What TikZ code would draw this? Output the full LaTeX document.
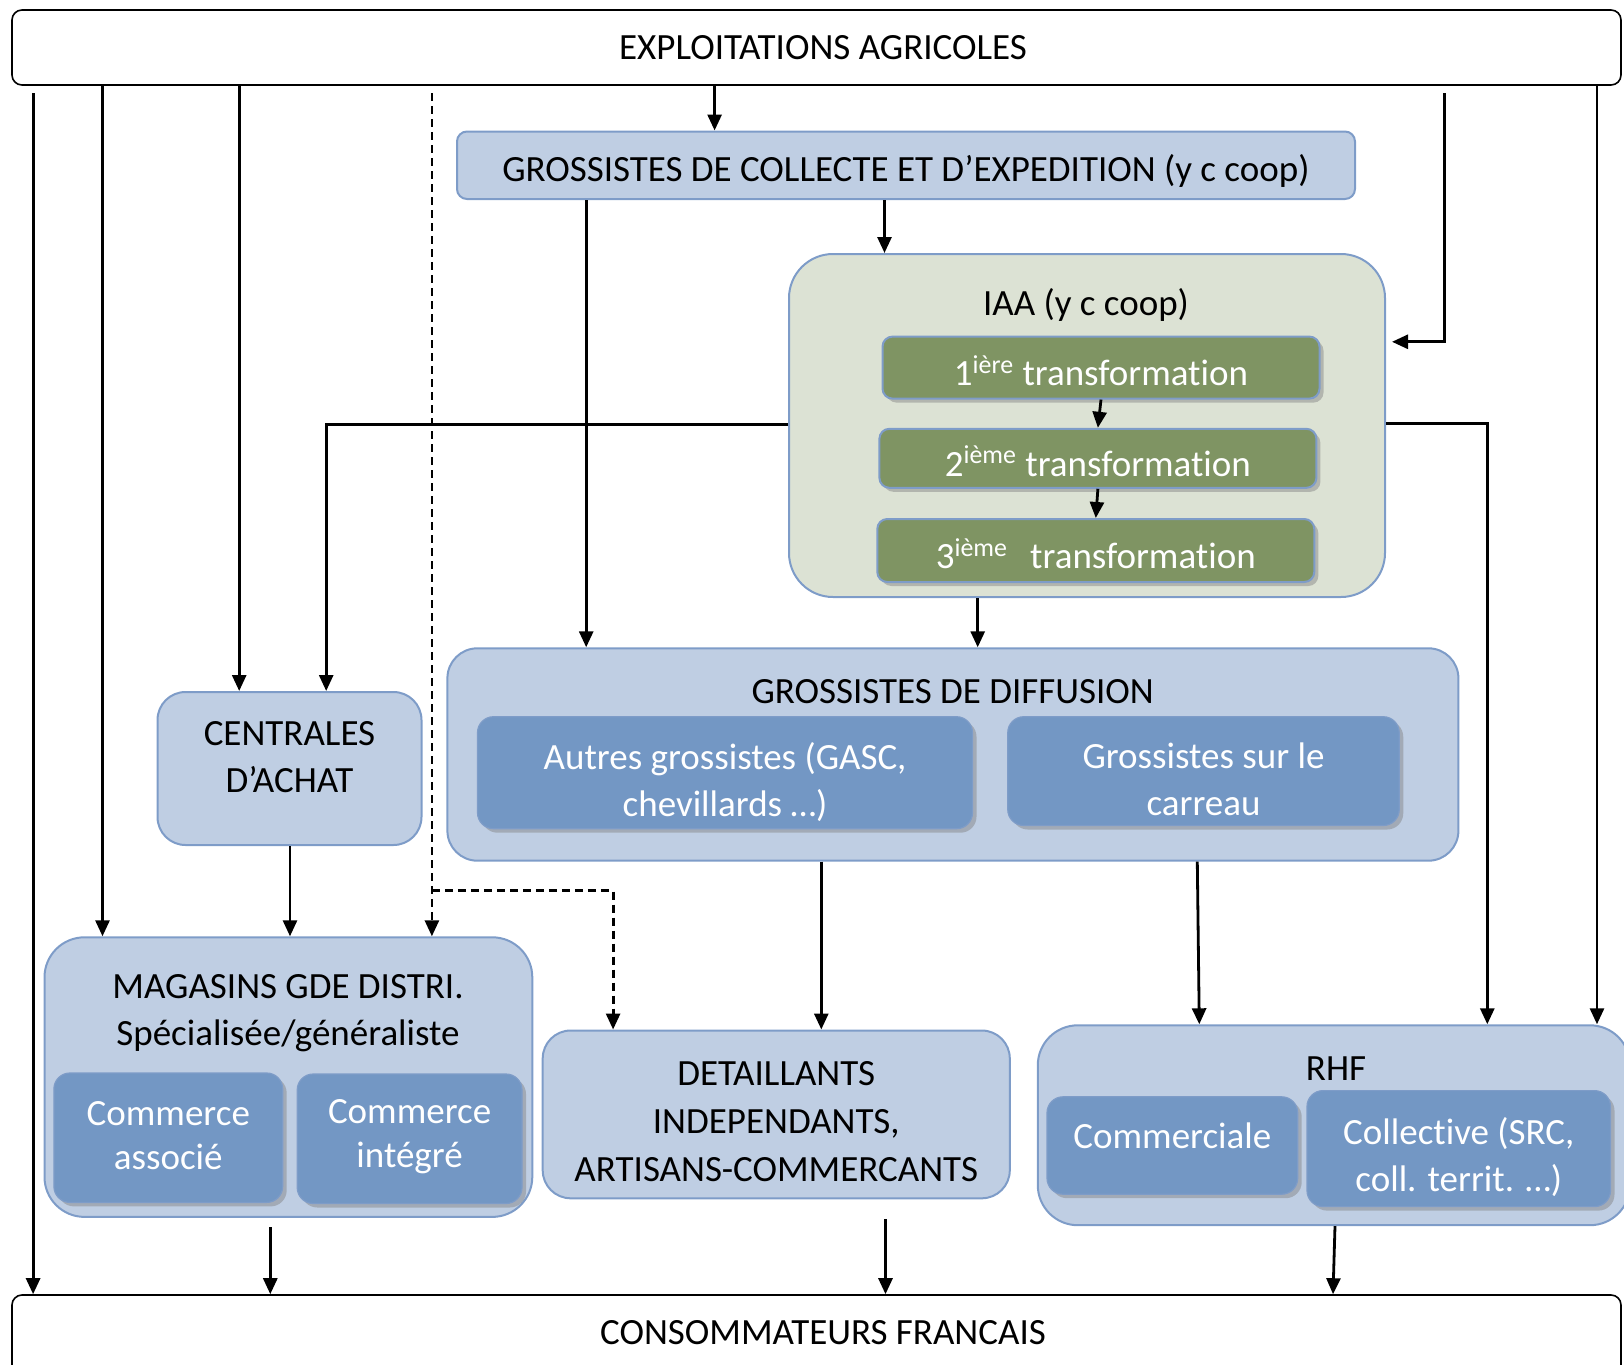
\documentclass[tikz,border=0pt]{standalone}
\usepackage{fontspec}
\setmainfont[Ligatures=NoCommon]{Carlito}
\usetikzlibrary{arrows.meta,shadows,calc}
\definecolor{boxlight}{RGB}{191,206,227}
\definecolor{bluebd}{RGB}{126,156,200}
\definecolor{boxdark}{RGB}{115,151,196}
\definecolor{iaafill}{RGB}{220,226,212}
\definecolor{greenbox}{RGB}{127,148,99}
\begin{document}
\begin{tikzpicture}[x=0.5pt,y=-0.5pt,
  font=\fontsize{18.5}{23.8}\selectfont,
  arr/.style={line width=1.4pt,-{Triangle[length=8pt,width=7pt]}},
  dsh/.style={dash pattern=on 4pt off 2.5pt},
  frame/.style={draw=black,line width=0.8pt,rounded corners=5pt,fill=white,inner sep=0pt},
  outer/.style={draw=bluebd,line width=1pt,fill=boxlight,inner sep=0pt,align=center},
  inner/.style={draw=bluebd,line width=0.6pt,fill=boxdark,rounded corners=8pt,inner sep=0pt,
    drop shadow={opacity=0.45,shadow xshift=2pt,shadow yshift=-2pt}},
  greenb/.style={draw=bluebd,line width=1pt,fill=greenbox,rounded corners=5pt,inner sep=0pt,
    drop shadow={opacity=0.45,shadow xshift=2pt,shadow yshift=-2pt}},
  wtxt/.style={text=white,align=center,inner sep=0pt},
  btxt/.style={text=black,align=center,inner sep=0pt},
]
\useasboundingbox (0,0) rectangle (1624,1365);
\clip (0,0) rectangle (1624,1365);

% frames
\node[frame, minimum width=804.5pt, minimum height=37.5pt] (expl) at (816.5,47.5) {};
\node[btxt] (explT) at (823,47.5) {EXPLOITATIONS AGRICOLES};
\node[frame, minimum width=804.5pt, minimum height=45pt] (cons) at (816.5,1340) {};
\node[btxt] (consT) at (823,1333) {CONSOMMATEURS FRANCAIS};

% collecte
\node[outer, rounded corners=5pt, minimum width=449pt, minimum height=33.75pt] (coll) at (906,165.25) {};
\node[btxt] (collT) at (906,170.5) {GROSSISTES DE COLLECTE ET D’EXPEDITION (y c coop)};

% IAA
\node[outer, fill=iaafill, rounded corners=22pt, minimum width=298pt, minimum height=171.5pt] (iaa) at (1087,425.5) {};
\node[btxt] (iaaT) at (1086,304.5) {IAA (y c coop)};
\node[greenb, minimum width=218.5pt, minimum height=31pt] (t1) at (1101,367.6) {};
\node[wtxt] (t1T) at (1101,370.7) {1\textsuperscript{ière} transformation};
\node[greenb, minimum width=218.5pt, minimum height=29.5pt] (t2) at (1097.9,458.3) {};
\node[wtxt] (t2T) at (1097.9,461.4) {2\textsuperscript{ième} transformation};
\node[greenb, minimum width=218.5pt, minimum height=31.5pt] (t3) at (1095.8,550.5) {};
\node[wtxt] (t3T) at (1095.8,553.6) {3\textsuperscript{ième}\hspace{0.6em}transformation};

% centrales
\node[outer, rounded corners=14pt, minimum width=132pt, minimum height=76.5pt] (cent) at (289.5,768.5) {};
\node[btxt] (centT) at (289.5,757) {CENTRALES\\D’ACHAT};

% diffusion
\node[outer, rounded corners=15pt, minimum width=505.5pt, minimum height=106.2pt] (diff) at (952.9,754.5) {};
\node[btxt] (diffT) at (952.8,691.8) {GROSSISTES DE DIFFUSION};
\node[inner, minimum width=247.5pt, minimum height=56pt] (autres) at (725,772.7) {};
\node[wtxt] (autresT) at (725,782) {Autres grossistes (GASC,\\chevillards …)};
\node[inner, minimum width=195.75pt, minimum height=54.4pt] (carreau) at (1203.5,771.1) {};
\node[wtxt] (carreauT) at (1203.5,779.4) {Grossistes sur le\\carreau};

% magasins
\node[outer, rounded corners=20pt, minimum width=243.9pt, minimum height=139.8pt] (mag) at (288.4,1077.1) {};
\node[btxt] (magT) at (288,1013) {MAGASINS GDE DISTRI.\\Spécialisée/généraliste};
\node[inner, minimum width=114.4pt, minimum height=64.7pt] (ca) at (168.3,1137.7) {};
\node[wtxt, font=\fontsize{18.5}{22}\selectfont] (caT) at (168.3,1136) {Commerce\\associé};
\node[inner, minimum width=112.4pt, minimum height=64.75pt] (ci) at (409.6,1138.75) {};
\node[wtxt, font=\fontsize{18.5}{22}\selectfont] (ciT) at (409.6,1137) {Commerce\\intégré};

% detaillants
\node[outer, rounded corners=14pt, minimum width=233.55pt, minimum height=83.9pt] (det) at (776.25,1114.4) {};
\node[btxt] (detT) at (776.25,1121.7) {DETAILLANTS\\INDEPENDANTS,\\ARTISANS-COMMERCANTS};

% RHF
\node[outer, rounded corners=20pt, minimum width=296.1pt, minimum height=99.95pt] (rhf) at (1333.9,1125.25) {};
\node[btxt] (rhfT) at (1336,1068.8) {RHF};
\node[inner, minimum width=125.35pt, minimum height=48.7pt] (com) at (1172.35,1145.5) {};
\node[wtxt] (comT) at (1172.35,1136.2) {Commerciale};
\node[inner, minimum width=151.75pt, minimum height=58pt] (col) at (1458.75,1148.6) {};
\node[wtxt] (colT) at (1458.75,1156.9) {Collective (SRC,\\coll. territ. …)};

% connectors
\coordinate (x1) at (33.1,93);
\draw[arr] (x1) -- (x1 |- cons.north);
\coordinate (x2) at (102.5,0);
\draw[arr] (expl.south -| x2) -- (mag.north -| x2);
\coordinate (x3) at (239.2,0);
\draw[arr] (expl.south -| x3) -- (cent.north -| x3);
\coordinate (d1) at (431.9,93);
\coordinate (d2) at (431.9,890.7);
\coordinate (d3) at (613.1,890.7);
\draw[arr,dsh] (d1) -- (d1 |- mag.north);
\draw[arr,dsh] (d2) -- (d3) -- (d3 |- det.north);
\coordinate (x5) at (714.6,0);
\draw[arr] (expl.south -| x5) -- (coll.north -| x5);
\coordinate (x6) at (586.2,0);
\draw[arr] (coll.south -| x6) -- (diff.north -| x6);
\coordinate (x7) at (884.5,0);
\draw[arr] (coll.south -| x7) -- (iaa.north -| x7);
\coordinate (r1) at (1444.8,93);
\coordinate (r2) at (1444.8,341.8);
\draw[arr] (r1) -- (r2) -- ([xshift=3pt]iaa.east |- r2);
\coordinate (x9) at (1597,0);
\draw[arr] (expl.south -| x9) -- (rhf.north -| x9);
\coordinate (l1) at (326.2,424.6);
\draw[arr] (iaa.west |- l1) -- (l1) -- (l1 |- cent.north);
\coordinate (l2) at (1487.3,423.5);
\draw[arr] (iaa.east |- l2) -- (l2) -- (l2 |- rhf.north);
\draw[arr] (t1.south) -- (t2.north);
\draw[arr] (t2.south) -- (t3.north);
\coordinate (x14) at (977.7,0);
\draw[arr] (iaa.south -| x14) -- (diff.north -| x14);
\coordinate (x15) at (821.3,0);
\draw[arr] (diff.south -| x15) -- (det.north -| x15);
\coordinate (x16a) at (1197.3,0);
\coordinate (x16b) at (1199.3,0);
\draw[arr] (diff.south -| x16a) -- (rhf.north -| x16b);
\coordinate (x17) at (290,0);
\draw[arr] (cent.south -| x17) -- (mag.north -| x17);
\coordinate (b1) at (270.3,1227.3);
\draw[arr] (b1) -- (b1 |- cons.north);
\coordinate (b2) at (885.5,1219);
\draw[arr] (b2) -- (b2 |- cons.north);
\coordinate (x20a) at (1335,0);
\coordinate (x20b) at (1333,0);
\draw[arr] (rhf.south -| x20a) -- (cons.north -| x20b);
\end{tikzpicture}
\end{document}
